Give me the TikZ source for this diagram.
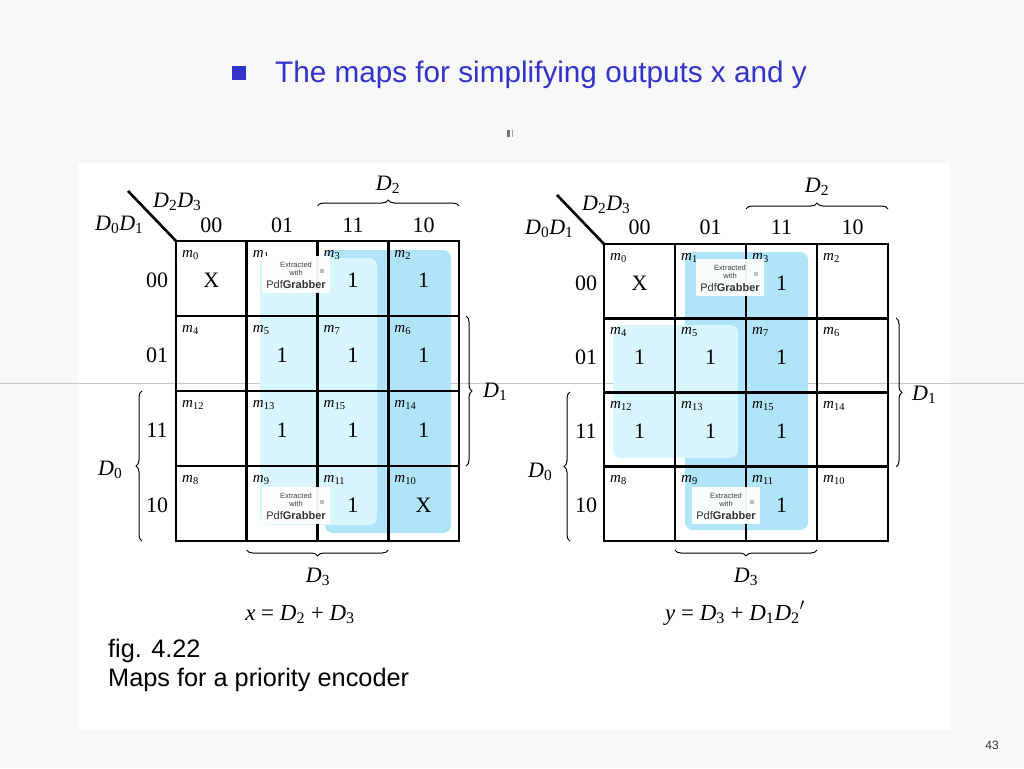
\documentclass[tikz,border=0pt]{standalone}
\usepackage{fontspec}
\setmainfont{Liberation Serif}
\newfontfamily\sansf{Liberation Sans}
\usetikzlibrary{decorations.pathreplacing}
\definecolor{titleblue}{RGB}{51,51,204}
\definecolor{grpdark}{RGB}{176,229,249}
\definecolor{grplight}{RGB}{217,245,253}
\definecolor{bgray}{RGB}{248,248,248}
\newcommand{\kv}[2]{\textit{#1}\textsubscript{#2}}
\tikzset{
  gridline/.style={line width=2.6pt, line cap=rect},
  diag/.style={line width=2.6pt},
  mlab/.style={anchor=base west, inner sep=0pt, font=\fontsize{15}{15}\selectfont},
  val/.style={anchor=base, inner sep=0pt, font=\fontsize{22}{22}\selectfont},
  lab/.style={inner sep=0pt, font=\fontsize{22}{22}\selectfont},
  eqlab/.style={anchor=base, inner sep=0pt, font=\fontsize{23}{23}\selectfont},
  brc/.style={decorate, decoration={brace, amplitude=6pt}, line width=1pt},
  grpD/.style={fill=grpdark, rounded corners=8pt},
  grpL/.style={fill=grplight, rounded corners=8pt},
  wmbox/.style={fill=white, fill opacity=0.95, draw=none},
  wmsmall/.style={inner sep=0pt, text=black!75, font=\sansf\fontsize{7.5}{7.5}\selectfont},
  wmbig/.style={inner sep=0pt, text=black!80, font=\sansf\fontsize{11}{11}\selectfont},
  titletext/.style={anchor=base west, inner sep=0pt, text=titleblue, font=\sansf\fontsize{29.7}{29.7}\selectfont},
  captext/.style={anchor=base west, inner sep=0pt, font=\sansf\fontsize{25.3}{25.3}\selectfont},
}
% watermark: #1 = name, (#2,#3) = top-left corner
\newcommand{\wmark}[3]{%
  \fill[wmbox] (#2,#3) rectangle ({#2+68},{#3+37});
  \node[wmsmall] (#1a) at ({#2+34},{#3+9}) {Extracted};
  \node[wmsmall] (#1b) at ({#2+34},{#3+17}) {with};
  \node[wmbig] (#1c) at ({#2+34},{#3+29}) {Pdf\textbf{Grabber}};
  \fill[black!25] ({#2+58},{#3+13}) rectangle ({#2+62},{#3+17});
}
\begin{document}
\begin{tikzpicture}[x=1pt,y=-1pt]
\useasboundingbox (0,0) rectangle (1024,768);
% background
\fill[bgray] (0,0) rectangle (1024,768);
\fill[white] (78,163) rectangle (950,730);
\draw[black!22, line width=0.8pt] (0,383) -- (1024,383);
\fill[black!55] (507,130) rectangle (509.5,137);
\fill[black!35] (511.5,130) rectangle (513,137);

% title
\fill[titleblue] (232,66) rectangle (246,80);
\node[titletext] (title) at (275,82) {The maps for simplifying outputs x and y};

% caption
\node[captext] (cap1) at (108,657) {fig. 4.22};
\node[captext] (cap2) at (108,686) {Maps for a priority encoder};
\node[inner sep=0pt, text=black!80, font=\sansf\fontsize{12}{12}\selectfont] (pageno) at (992,745) {43};

% ================= LEFT MAP (x) =================
\fill[grpD] (325,250) rectangle (451,533);
\fill[grpL] (260,258) rectangle (377,525);
\foreach \i in {0,...,4} {
  \draw[gridline] ({176+\i*70.75},241) -- ({176+\i*70.75},541);
  \draw[gridline] (176,{241+\i*75}) -- (459,{241+\i*75});
}
\coordinate (Lcorner) at (176,241);
\coordinate (Ldiag) at (128,191);
\draw[diag] (Ldiag) -- (Lcorner);
\node[lab, anchor=base west] (LD2D3) at (153,207) {\kv{D}{2}\kv{D}{3}};
\node[lab, anchor=base west] (LD0D1) at (95,230) {\kv{D}{0}\kv{D}{1}};
\foreach \c/\t in {0/00,1/01,2/11,3/10} {
  \node[val] (Lcol\c) at ({176+\c*70.75+35.4},232) {\t};
  \node[val] (Lrow\c) at (157,{241+\c*75+46.5}) {\t};
}
\foreach \r/\rv in {0/0,1/1,2/3,3/2} {
  \foreach \c/\cv in {0/0,1/1,2/3,3/2} {
    \pgfmathtruncatemacro\mm{\rv*4+\cv}
    \node[mlab] (Lm\mm) at ({176+\c*70.75+6},{241+\r*75+16}) {\kv{m}{\mm}};
  }
}
\foreach \r/\c/\v in {0/0/X,0/2/1,0/3/1,1/1/1,1/2/1,1/3/1,2/1/1,2/2/1,2/3/1,3/2/1,3/3/X} {
  \node[val] (Lv\r\c) at ({176+\c*70.75+35.4},{241+\r*75+46.5}) {\v};
}
% braces
\coordinate (LD2a) at (317.5,206); \coordinate (LD2b) at (459,206);
\draw[brc] (LD2a) -- (LD2b);
\node[lab, anchor=base] (LD2) at (388,190) {\kv{D}{2}};
\coordinate (LD1a) at (466,316); \coordinate (LD1b) at (466,466);
\draw[brc] (LD1a) -- (LD1b);
\node[lab, anchor=base west] (LD1) at (483,397) {\kv{D}{1}};
\coordinate (LD0a) at (142,541); \coordinate (LD0b) at (142,391);
\draw[brc] (LD0a) -- (LD0b);
\node[lab, anchor=base west] (LD0) at (98,475) {\kv{D}{0}};
\coordinate (LD3a) at (388.25,550); \coordinate (LD3b) at (246.75,550);
\draw[brc] (LD3a) -- (LD3b);
\node[lab, anchor=base] (LD3) at (318,582) {\kv{D}{3}};
\node[eqlab] (Leq) at (300,620) {\textit{x} = \kv{D}{2} + \kv{D}{3}};
\wmark{LwA}{262}{256}
\wmark{LwB}{262}{487}

% ================= RIGHT MAP (y) =================
\fill[grpD] (685,252) rectangle (808,530);
\fill[grpL] (613,325) rectangle (738,458);
\foreach \i in {0,...,4} {
  \draw[gridline] ({604+\i*71},244) -- ({604+\i*71},541);
  \draw[gridline] (604,{244+\i*74.25}) -- (888,{244+\i*74.25});
}
\coordinate (Rcorner) at (604,244);
\coordinate (Rdiag) at (557,195);
\draw[diag] (Rdiag) -- (Rcorner);
\node[lab, anchor=base west] (RD2D3) at (582,210) {\kv{D}{2}\kv{D}{3}};
\node[lab, anchor=base west] (RD0D1) at (525,234) {\kv{D}{0}\kv{D}{1}};
\foreach \c/\t in {0/00,1/01,2/11,3/10} {
  \node[val] (Rcol\c) at ({604+\c*71+35.5},234) {\t};
  \node[val] (Rrow\c) at (586,{244+\c*74.25+46}) {\t};
}
\foreach \r/\rv in {0/0,1/1,2/3,3/2} {
  \foreach \c/\cv in {0/0,1/1,2/3,3/2} {
    \pgfmathtruncatemacro\mm{\rv*4+\cv}
    \node[mlab] (Rm\mm) at ({604+\c*71+6},{244+\r*74.25+16}) {\kv{m}{\mm}};
  }
}
\foreach \r/\c/\v in {0/0/X,0/2/1,1/0/1,1/1/1,1/2/1,2/0/1,2/1/1,2/2/1,3/2/1} {
  \node[val] (Rv\r\c) at ({604+\c*71+35.5},{244+\r*74.25+46}) {\v};
}
\coordinate (RD2a) at (746,209); \coordinate (RD2b) at (888,209);
\draw[brc] (RD2a) -- (RD2b);
\node[lab, anchor=base] (RD2) at (817,192) {\kv{D}{2}};
\coordinate (RD1a) at (896,318); \coordinate (RD1b) at (896,467);
\draw[brc] (RD1a) -- (RD1b);
\node[lab, anchor=base west] (RD1) at (912,400) {\kv{D}{1}};
\coordinate (RD0a) at (570,541); \coordinate (RD0b) at (570,392);
\draw[brc] (RD0a) -- (RD0b);
\node[lab, anchor=base west] (RD0) at (528,477) {\kv{D}{0}};
\coordinate (RD3a) at (817,550); \coordinate (RD3b) at (675,550);
\draw[brc] (RD3a) -- (RD3b);
\node[lab, anchor=base] (RD3) at (746,582) {\kv{D}{3}};
\node[eqlab] (Req) at (735,620) {\textit{y} = \kv{D}{3} + \kv{D}{1}\kv{D}{2}$'$};
\wmark{RwA}{696}{259}
\wmark{RwB}{692}{487}
\end{tikzpicture}
\end{document}
